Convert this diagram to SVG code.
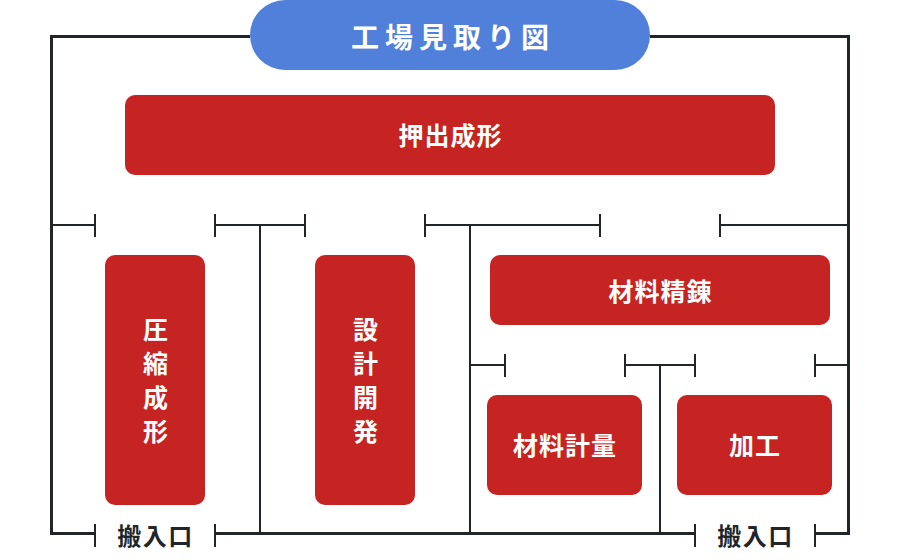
<svg xmlns="http://www.w3.org/2000/svg" width="900" height="560" viewBox="0 0 900 560">
<style>
.w{fill:none;stroke:#212529;stroke-width:2}
.f{fill:none;stroke:#212529;stroke-width:3}
.n{fill:#c52422}
text{font-family:"Noto Sans CJK JP","Noto Sans",sans-serif;font-weight:700;text-anchor:middle}
.t{fill:#fff;font-size:25px;letter-spacing:1px}
.l{fill:#212529;font-size:24px;letter-spacing:1.5px}
</style>
<g id="connectors">
<path class="f" d="M250 36.5H51.5V533.5H95M650 36.5H848.5V533.5H815M215 533.5H695"/>
<path class="w" d="M95 524V547M215 524V547M695 524V547M815 524V547"/>
<path class="w" d="M52 225H95M95 214V237M215 214V237M215 225H305M305 214V237M260 225V533M425 214V237M425 225H600M600 214V237M470 225V533M720 214V237M720 225H848M470 365H505M505 354V377M625 354V377M625 365H695M695 354V377M660 365V533M815 354V377M815 365H848"/>
</g>
<g id="title"><rect x="250" y="0" width="400" height="70" rx="35" fill="#5080da"/><text x="453" y="48" fill="#fff" font-size="28" style="letter-spacing:6px">工場見取り図</text></g>
<g id="extrusion"><rect class="n" x="125" y="95" width="650" height="80" rx="10"/><text class="t" x="450.5" y="144.500">押出成形</text></g>
<g id="compression"><rect class="n" x="105" y="255" width="100" height="250" rx="10"/><text class="t" x="156" y="338.500">圧</text><text class="t" x="156" y="372.500">縮</text><text class="t" x="156" y="406.500">成</text><text class="t" x="156" y="440.500">形</text></g>
<g id="design"><rect class="n" x="315" y="255" width="100" height="250" rx="10"/><text class="t" x="366" y="338.500">設</text><text class="t" x="366" y="372.500">計</text><text class="t" x="366" y="406.500">開</text><text class="t" x="366" y="440.500">発</text></g>
<g id="refining"><rect class="n" x="490" y="255" width="340" height="70" rx="10"/><text class="t" x="660.5" y="300.500">材料精錬</text></g>
<g id="weighing"><rect class="n" x="487" y="395" width="155" height="100" rx="10"/><text class="t" x="565" y="455">材料計量</text></g>
<g id="processing"><rect class="n" x="677" y="395" width="155" height="100" rx="10"/><text class="t" x="755" y="455">加工</text></g>
<g id="entry-left"><text class="l" x="155.500" y="545">搬入口</text></g>
<g id="entry-right"><text class="l" x="755.500" y="545">搬入口</text></g>
</svg>
